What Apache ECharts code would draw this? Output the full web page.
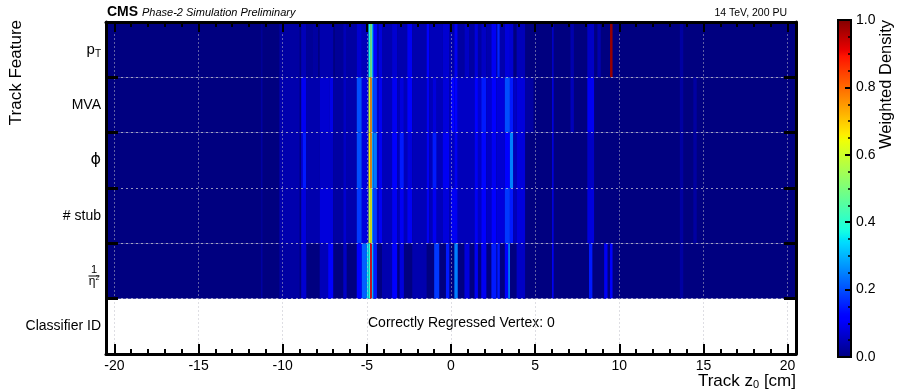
<!DOCTYPE html>
<html><head><meta charset="utf-8">
<script src="https://cdn.jsdelivr.net/npm/echarts@6/dist/echarts.min.js"></script>
<style>html,body{margin:0;padding:0;background:#fff}#c{width:897px;height:391px}</style>
</head><body><div id="c"></div>
<script>
// ---- data ----
const rowNames = ['pT', 'MVA', 'phi', 'stub', 'eta', 'cls'];
const xMajorTicks = [-20, -15, -10, -5, 0, 5, 10, 15, 20];
const xMinorTicks = [-19,-18,-17,-16,-14,-13,-12,-11,-9,-8,-7,-6,-4,-3,-2,-1,1,2,3,4,6,7,8,9,11,12,13,14,16,17,18,19];
// each entry: [z start, z end, weighted density]
const rowPT = [
  [-20.5,20.5,0],[-11.3,-11.2,0.02],[-10.2,-9.0,0.03],[-8.9,-8.6,0.05],[-8.6,-8.2,0.02],[-8.2,-7.9,0.03],[-7.8,-7.0,0.04],[-6.9,-6.4,0.02],[-6.4,-6.2,0.05],
  [-6.2,-5.6,0.03],[-5.6,-5.3,0.07],[-5.3,-4.9,0.05],[-4.9,-4.8,0.38],[-4.8,-4.7,0.5],[-4.7,-4.6,0.28],[-4.6,-4.4,0.12],
  [-4.4,-4.3,0.04],[-4.3,-4.1,0.08],[-4.1,-3.5,0.04],[-3.5,-3.2,0.07],[-3.2,-2.6,0.04],[-2.6,-2.3,0.1],[-2.3,-1.45,0.04],
  [-1.45,-1.3,0.12],[-1.3,-0.5,0.05],[-0.5,-0.1,0.07],[-0.1,0.2,0.04],[0.2,0.4,0.1],[0.4,0.8,0.03],[0.8,1.1,0.06],[1.1,1.4,0.03],
  [1.4,1.6,0.08],[1.6,1.8,0.03],[1.8,2.1,0.06],[2.1,2.4,0.04],[2.4,2.7,0.1],[2.75,2.9,0.16],[2.9,3.2,0.04],[3.2,3.5,0.08],[3.5,3.7,0.07],[3.9,4.4,0.05],
  [6.0,6.1,0.06],[7.1,7.3,0.04],[8.1,8.5,0.06],[8.7,8.9,0.04],[9.45,9.6,0.98],[13.6,13.8,0.03]
];
const rowMVA = [
  [-20.5,20.5,0],[-11.3,-11.2,0.03],[-10.2,-9.0,0.04],[-8.9,-8.6,0.1],[-8.6,-7.8,0.04],[-7.8,-7.2,0.07],[-7.2,-7.0,0.09],
  [-7.0,-6.4,0.03],[-6.4,-6.2,0.06],[-6.2,-5.6,0.04],[-5.6,-5.3,0.2],[-5.3,-4.9,0.08],[-4.9,-4.8,0.6],[-4.8,-4.7,0.75],
  [-4.7,-4.6,0.25],[-4.6,-4.4,0.18],[-4.4,-4.3,0.06],[-4.3,-4.1,0.1],[-4.1,-3.5,0.05],[-3.5,-3.2,0.1],[-3.2,-3.05,0.05],[-3.05,-2.8,0.08],
  [-2.8,-2.6,0.05],[-2.6,-2.3,0.12],[-2.3,-1.45,0.05],[-1.45,-1.3,0.1],[-1.3,-1.1,0.05],[-1.1,-0.85,0.08],[-0.85,-0.5,0.05],[-0.5,-0.1,0.08],[-0.1,0.0,0.05],[0.0,0.2,0.12],
  [0.2,0.4,0.12],[0.4,1.4,0.06],[1.4,1.6,0.12],[1.6,1.8,0.07],[1.8,2.1,0.15],[2.1,2.4,0.07],[2.4,2.7,0.12],[2.7,3.2,0.08],[3.2,3.5,0.2],
  [3.5,3.7,0.15],[3.7,3.9,0.06],[3.9,4.4,0.08],[4.4,4.9,0.03],[6.0,6.1,0.08],[7.1,7.3,0.05],[8.1,8.5,0.1],[13.6,13.8,0.03],[14.4,14.6,0.03]
];
const rowPhi = [
  [-20.5,20.5,0],[-11.3,-11.2,0.03],[-10.2,-9.0,0.04],[-8.9,-8.8,0.08],[-8.8,-8.6,0.15],[-8.6,-7.8,0.04],[-7.8,-7.0,0.06],
  [-7.0,-6.4,0.03],[-6.4,-6.2,0.06],[-6.2,-5.6,0.04],[-5.6,-5.3,0.2],[-5.3,-4.9,0.08],[-4.9,-4.8,0.65],[-4.8,-4.7,0.75],[-4.7,-4.6,0.28],
  [-4.6,-4.4,0.24],[-4.4,-4.3,0.06],[-4.3,-4.1,0.1],[-4.1,-3.5,0.05],[-3.5,-3.2,0.12],[-3.2,-3.05,0.05],[-3.05,-2.8,0.15],[-2.8,-2.6,0.05],[-2.6,-2.3,0.08],
  [-2.3,-1.45,0.05],[-1.45,-1.3,0.1],[-1.3,-1.1,0.05],[-1.1,-0.85,0.15],[-0.85,-0.5,0.05],[-0.5,-0.1,0.1],[-0.1,0.2,0.06],[0.2,0.4,0.1],[0.4,1.4,0.05],[1.4,1.6,0.1],
  [1.6,1.8,0.06],[1.8,2.1,0.13],[2.1,2.4,0.06],[2.4,2.7,0.1],[2.7,3.2,0.07],[3.2,3.5,0.12],[3.5,3.7,0.25],[3.7,3.9,0.05],[3.9,4.4,0.08],[6.0,6.1,0.08],[8.1,8.5,0.06],
  [13.6,13.8,0.03],[14.4,14.6,0.03]
];
const rowStub = [
  [-20.5,20.5,0],[-11.3,-11.2,0.02],[-10.2,-9.0,0.04],[-8.9,-8.6,0.08],[-8.6,-7.8,0.04],[-7.8,-7.0,0.08],[-7.0,-6.4,0.03],[-6.4,-6.2,0.07],
  [-6.2,-5.6,0.04],[-5.6,-5.3,0.18],[-5.3,-4.9,0.08],[-4.9,-4.8,0.58],[-4.8,-4.7,0.65],[-4.7,-4.6,0.25],[-4.6,-4.4,0.18],
  [-4.4,-4.3,0.06],[-4.3,-4.1,0.1],[-4.1,-3.5,0.05],[-3.5,-3.2,0.1],[-3.2,-3.05,0.05],[-3.05,-2.8,0.1],[-2.8,-2.6,0.05],[-2.6,-2.3,0.1],[-2.3,-1.45,0.05],
  [-1.45,-1.3,0.1],[-1.3,-1.1,0.05],[-1.1,-0.85,0.1],[-0.85,-0.5,0.05],[-0.5,-0.1,0.08],[-0.1,0.0,0.05],[0.0,0.4,0.1],[0.4,1.4,0.05],[1.4,1.6,0.1],
  [1.6,1.8,0.06],[1.8,2.1,0.12],[2.1,2.4,0.06],[2.4,2.7,0.12],[2.7,3.2,0.08],[3.2,3.5,0.18],[3.5,3.7,0.15],[3.7,3.9,0.05],[3.9,4.4,0.08],[6.0,6.1,0.08],[8.1,8.5,0.08],
  [13.6,13.8,0.03],[14.4,14.6,0.03]
];
const rowEta = [
  [-20.5,20.5,0],[-11.3,-11.2,0.03],[-10.2,-9.0,0.03],[-8.9,-8.6,0.07],[-7.8,-7.3,0.05],[-7.3,-7.0,0.12],
  [-6.4,-6.2,0.06],[-5.6,-5.3,0.12],[-5.3,-5.0,0.22],[-5.0,-4.9,0.35],[-4.9,-4.8,0.4],[-4.8,-4.7,0.9],
  [-4.7,-4.6,0.3],[-4.6,-4.4,0.15],[-4.1,-3.5,0.04],[-3.5,-3.2,0.12],[-3.05,-2.8,0.08],[-2.3,-1.45,0.04],
  [-1.0,-0.7,0.18],[-0.3,-0.1,0.15],[0.2,0.4,0.25],[0.8,1.1,0.08],[1.4,1.6,0.1],[1.8,2.1,0.1],
  [2.4,2.7,0.15],[2.75,2.9,0.15],[3.2,3.4,0.12],[3.4,3.5,0.25],[3.9,4.4,0.06],[6.0,6.1,0.1],[8.2,8.4,0.15],
  [9.1,9.3,0.1],[9.45,9.6,0.12],[13.6,13.8,0.03]
];
const rows = [rowPT, rowMVA, rowPhi, rowStub, rowEta];
const classifierText = 'Correctly Regressed Vertex: 0';

// ---- style helpers ----
function jet(t) {
  const seg = (pts) => {
    for (let i = 1; i < pts.length; i++) {
      if (t <= pts[i][0]) {
        const [x0, y0] = pts[i-1], [x1, y1] = pts[i];
        return y0 + (y1 - y0) * (t - x0) / (x1 - x0);
      }
    }
    return pts[pts.length-1][1];
  };
  const r = seg([[0,0],[0.35,0],[0.66,1],[0.89,1],[1,0.5]]);
  const g = seg([[0,0],[0.125,0],[0.375,1],[0.64,1],[0.91,0],[1,0]]);
  const b = seg([[0,0.5],[0.11,1],[0.34,1],[0.65,0],[1,0]]);
  return 'rgb(' + Math.round(r*255) + ',' + Math.round(g*255) + ',' + Math.round(b*255) + ')';
}
const jetColors = [], jetStops = [];
for (let i = 0; i <= 100; i++) { jetColors.push(jet(i/100)); jetStops.push({offset: i/100, color: jet(i/100)}); }

const FONT = '"Liberation Sans", Arial, sans-serif';
const seriesData = [];
rows.forEach((row, i) => row.forEach(s => seriesData.push([s[0], i, s[1], s[2]])));

const labelMap = {
  pT: '{a|p}{sub|T}', MVA: 'MVA', phi: '{phi|ϕ}', stub: '# stub', eta: '', cls: 'Classifier ID'
};

const chart = echarts.init(document.getElementById('c'), null, {renderer: 'canvas'});
const gridLine = {show: true, lineStyle: {color: 'rgba(190,190,200,0.5)', type: [2, 2], width: 1}};
const tickAxis = (pos, len, vals) => ({type: 'value', gridIndex: 0, position: pos, min: -20.5, max: 20.5, z: 5,
  axisLine: {show: false, onZero: false}, axisLabel: {show: false}, splitLine: {show: false},
  axisTick: {show: true, inside: true, length: len, customValues: vals, lineStyle: {color: '#000', width: 2}}});
chart.setOption({
  animation: false,
  backgroundColor: '#fff',
  textStyle: {fontFamily: FONT},
  grid: [
    {left: 106, right: 101, top: 22, bottom: 37, show: true, borderWidth: 0, backgroundColor: '#fff'},
    {left: 838, width: 13, top: 20, bottom: 34, show: false}
  ],
  visualMap: {show: false, type: 'continuous', min: 0, max: 1, dimension: 3, seriesIndex: 0, inRange: {color: jetColors}},
  xAxis: [
    {type: 'value', gridIndex: 0, position: 'bottom', min: -20.5, max: 20.5, z: 5,
     axisLine: {show: true, onZero: false, lineStyle: {color: '#000', width: 3}},
     axisTick: {show: true, inside: true, length: 10, customValues: xMajorTicks, lineStyle: {color: '#000', width: 2}},
     axisLabel: {customValues: xMajorTicks, color: '#000', fontSize: 14, margin: 5, fontFamily: FONT},
     splitLine: gridLine},
    tickAxis('bottom', 5, xMinorTicks),
    Object.assign(tickAxis('top', 10, xMajorTicks), {axisLine: {show: true, onZero: false, lineStyle: {color: '#000', width: 3}}}),
    tickAxis('top', 5, xMinorTicks),
    {type: 'value', gridIndex: 1, min: 0, max: 1, show: false}
  ],
  yAxis: [
    {type: 'category', gridIndex: 0, data: rowNames, inverse: true, position: 'left', z: 5,
     axisLine: {show: true, onZero: false, lineStyle: {color: '#000', width: 3}},
     axisTick: {show: true, inside: true, length: 12, lineStyle: {color: '#000', width: 3}},
     splitLine: {show: true, lineStyle: {color: 'rgba(200,200,210,0.75)', type: [2, 3], width: 1}},
     axisLabel: {color: '#000', fontSize: 14, margin: 5, fontFamily: FONT, align: 'right',
       formatter: v => labelMap[v],
       rich: {
         a: {fontSize: 15, fontFamily: FONT, color: '#000'},
         sub: {fontSize: 10, fontFamily: FONT, color: '#000', padding: [9, 0, 0, 0]},
         phi: {fontSize: 16, fontFamily: '"DejaVu Sans", sans-serif', color: '#000'}
       }}},
    {type: 'category', gridIndex: 0, data: rowNames, inverse: true, position: 'right', z: 5,
     axisLine: {show: true, onZero: false, lineStyle: {color: '#000', width: 3}}, axisLabel: {show: false}, splitLine: {show: false},
     axisTick: {show: true, inside: true, length: 12, lineStyle: {color: '#000', width: 3}}},
    {type: 'value', gridIndex: 1, min: 0, max: 1, interval: 0.2, position: 'right', z: 10,
     axisLine: {show: false, onZero: false},
     axisTick: {show: true, inside: true, length: 6, lineStyle: {color: '#000', width: 2}},
     minorTick: {show: true, splitNumber: 4, length: 3, lineStyle: {color: '#000', width: 1.5}},
     splitLine: {show: false},
     axisLabel: {color: '#000', fontSize: 14, margin: 5, fontFamily: FONT, formatter: v => v.toFixed(1)}}
  ],
  series: [
    {type: 'custom', xAxisIndex: 0, yAxisIndex: 0, data: seriesData, encode: {x: [0, 2], y: 1}, z: 2,
     renderItem: function (params, api) {
       const row = api.value(1);
       const p0 = api.coord([api.value(0), row]);
       const p1 = api.coord([api.value(2), row]);
       const h = api.size([0, 1])[1];
       return {type: 'rect', shape: {x: p0[0], y: p0[1] - h / 2, width: p1[0] - p0[0], height: h},
               style: {fill: api.visual('color')}};
     }},
    {type: 'custom', xAxisIndex: 4, yAxisIndex: 2, data: [[0.5, 0.5]], z: 1,
     renderItem: function (params, api) {
       const p0 = api.coord([0, 0]);
       const p1 = api.coord([1, 1]);
       return {type: 'rect', shape: {x: p0[0], y: p1[1], width: p1[0] - p0[0], height: p0[1] - p1[1]},
               style: {fill: {type: 'linear', x: 0, y: 1, x2: 0, y2: 0, colorStops: jetStops}, stroke: '#000', lineWidth: 2}};
     }}
  ]
});

// fraction label 1/eta^2 placed at the centre of its category band
const etaY = chart.convertToPixel({yAxisIndex: 0}, 'eta');
const gridLeft = chart.convertToPixel({xAxisIndex: 0}, -20.5);
const fx = gridLeft - 12;
chart.setOption({
  graphic: [
    {type: 'text', left: 107, top: 5, style: {text: 'CMS', font: 'bold 14px ' + FONT, fill: '#000'}},
    {type: 'text', left: 142, top: 7, style: {text: 'Phase-2 Simulation Preliminary', font: 'italic 11px ' + FONT, fill: '#000'}},
    {type: 'text', right: 110, top: 8, style: {text: '14 TeV, 200 PU', font: '10.5px ' + FONT, fill: '#000'}},
    {type: 'text', x: 368, y: 323, style: {text: classifierText, font: '14px ' + FONT, fill: '#000', align: 'left', verticalAlign: 'middle'}},
    {type: 'text', x: 16, y: 20, rotation: Math.PI / 2, style: {text: 'Track Feature', font: '17px ' + FONT, fill: '#000', align: 'right', verticalAlign: 'middle'}},
    {type: 'text', x: 886, y: 20, rotation: Math.PI / 2, style: {text: 'Weighted Density', font: '16.5px ' + FONT, fill: '#000', align: 'right', verticalAlign: 'middle'}},
    {type: 'text', x: 796, y: 381, style: {text: '{t|Track z}{s|0}{t| [cm]}', align: 'right', verticalAlign: 'middle',
      rich: {t: {fontSize: 17, fontFamily: FONT, color: '#000'}, s: {fontSize: 11, fontFamily: FONT, color: '#000', padding: [8, 0, 0, 0]}}}},
    {type: 'text', x: fx, y: etaY - 1.5, style: {text: '1', font: '11px ' + FONT, fill: '#000', align: 'center', verticalAlign: 'middle'}},
    {type: 'line', shape: {x1: fx - 5.5, y1: etaY + 5, x2: fx + 5.5, y2: etaY + 5}, style: {stroke: '#000', lineWidth: 1}},
    {type: 'text', x: fx, y: etaY + 10.5, style: {text: '{e|η}{s|2}', align: 'center', verticalAlign: 'middle',
      rich: {e: {fontSize: 12, fontFamily: FONT, color: '#000'}, s: {fontSize: 7, fontFamily: FONT, color: '#000', padding: [0, 0, 6, 0]}}}}
  ]
});
</script></body></html>
